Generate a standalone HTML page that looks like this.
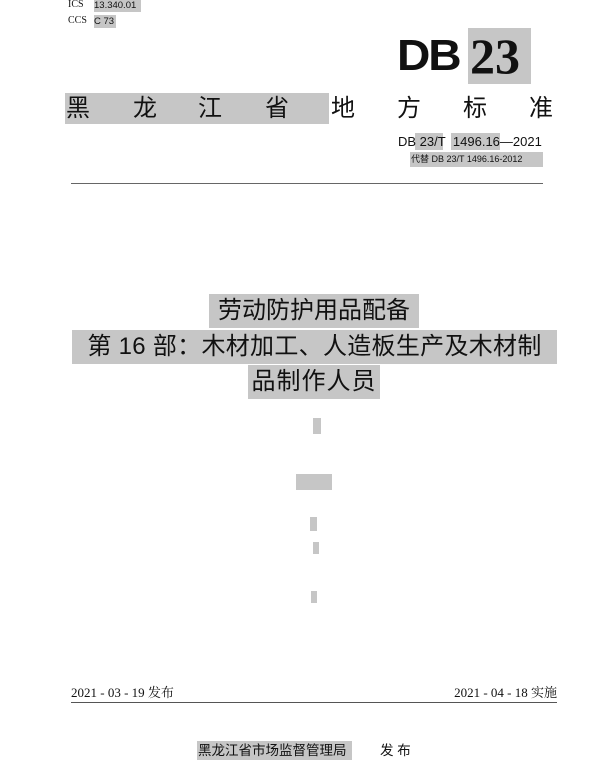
<!DOCTYPE html>
<html><head><meta charset="utf-8"><style>
body{margin:0;width:600px;height:768px;background:#fff;position:relative;overflow:hidden;font-family:"Liberation Sans","Noto Sans CJK SC",sans-serif;color:#111}
.a{position:absolute;white-space:nowrap}
.g{background:#c6c6c6}
.s{font-family:"Liberation Serif","Noto Serif CJK SC",serif}
.m{font-family:"Liberation Mono","Noto Sans CJK SC",monospace}
</style></head><body>
<div class="a s" style="left:68px;top:-1px;font-size:10px">ICS</div>
<div class="a g" style="left:94px;top:0;width:47px;height:12px;font-size:9.5px;line-height:12px">13.340.01</div>
<div class="a s" style="left:68px;top:15px;font-size:10px">CCS</div>
<div class="a g" style="left:94px;top:15px;width:22px;height:13px;font-size:9.5px;line-height:13px">C 73</div>

<div class="a" style="left:397px;top:33px;font-size:44px;font-weight:900;letter-spacing:-2px;line-height:46px;transform:scaleX(1.05);transform-origin:left">DB</div>
<div class="a g" style="left:468px;top:28px;width:63px;height:56px"></div>
<div class="a s" style="left:470px;top:28px;font-size:50px;line-height:56px;font-weight:bold">23</div>

<div class="a g" style="left:65px;top:93px;width:264px;height:31px"></div>
<div class="a" style="left:66px;top:94px;font-size:24px;line-height:30px">黑</div>
<div class="a" style="left:133px;top:94px;font-size:24px;line-height:30px">龙</div>
<div class="a" style="left:198px;top:94px;font-size:24px;line-height:30px">江</div>
<div class="a" style="left:265px;top:94px;font-size:24px;line-height:30px">省</div>
<div class="a" style="left:331px;top:94px;font-size:24px;line-height:30px">地</div>
<div class="a" style="left:397px;top:94px;font-size:24px;line-height:30px">方</div>
<div class="a" style="left:463px;top:94px;font-size:24px;line-height:30px">标</div>
<div class="a" style="left:529px;top:94px;font-size:24px;line-height:30px">准</div>

<div class="a g" style="left:415px;top:133px;width:28px;height:17px"></div>
<div class="a g" style="left:451px;top:133px;width:49px;height:17px"></div>
<div class="a" style="left:398px;top:133px;font-size:13px;line-height:17px">DB 23/T&nbsp; 1496.16—2021</div>
<div class="a g" style="left:410px;top:152px;width:133px;height:15px"></div>
<div class="a" style="left:411px;top:152px;font-size:9px;line-height:15px">代替 DB 23/T 1496.16-2012</div>

<div class="a" style="left:71px;top:183px;width:472px;height:1px;background:#666"></div>

<div class="a g" style="left:209px;top:294px;width:210px;height:34px"></div>
<div class="a" style="left:209px;top:294px;width:210px;text-align:center;font-size:24px;line-height:34px">劳动防护用品配备</div>
<div class="a g" style="left:72px;top:330px;width:485px;height:34px"></div>
<div class="a" style="left:72px;top:330px;width:485px;text-align:center;font-size:24px;line-height:34px;letter-spacing:0.3px">第 16 部：木材加工、人造板生产及木材制</div>
<div class="a g" style="left:248px;top:365px;width:132px;height:34px"></div>
<div class="a" style="left:248px;top:365px;width:132px;text-align:center;font-size:24px;line-height:34px;letter-spacing:1px">品制作人员</div>

<div class="a g" style="left:313px;top:418px;width:8px;height:16px"></div>
<div class="a g" style="left:296px;top:474px;width:36px;height:16px"></div>
<div class="a g" style="left:310px;top:517px;width:7px;height:14px"></div>
<div class="a g" style="left:313px;top:542px;width:6px;height:12px"></div>
<div class="a g" style="left:311px;top:591px;width:6px;height:12px"></div>

<div class="a s" style="left:71px;top:684px;font-size:13px;line-height:17px">2021 - 03 - 19 发布</div>
<div class="a s" style="right:43px;top:684px;font-size:13px;line-height:17px">2021 - 04 - 18 实施</div>
<div class="a" style="left:71px;top:702px;width:486px;height:1px;background:#555"></div>

<div class="a g" style="left:197px;top:741px;width:155px;height:19px"></div>
<div class="a" style="left:198px;top:741px;font-size:13.5px;line-height:19px">黑龙江省市场监督管理局</div>
<div class="a" style="left:380px;top:741px;font-size:13.5px;line-height:19px">发 布</div>
</body></html>
